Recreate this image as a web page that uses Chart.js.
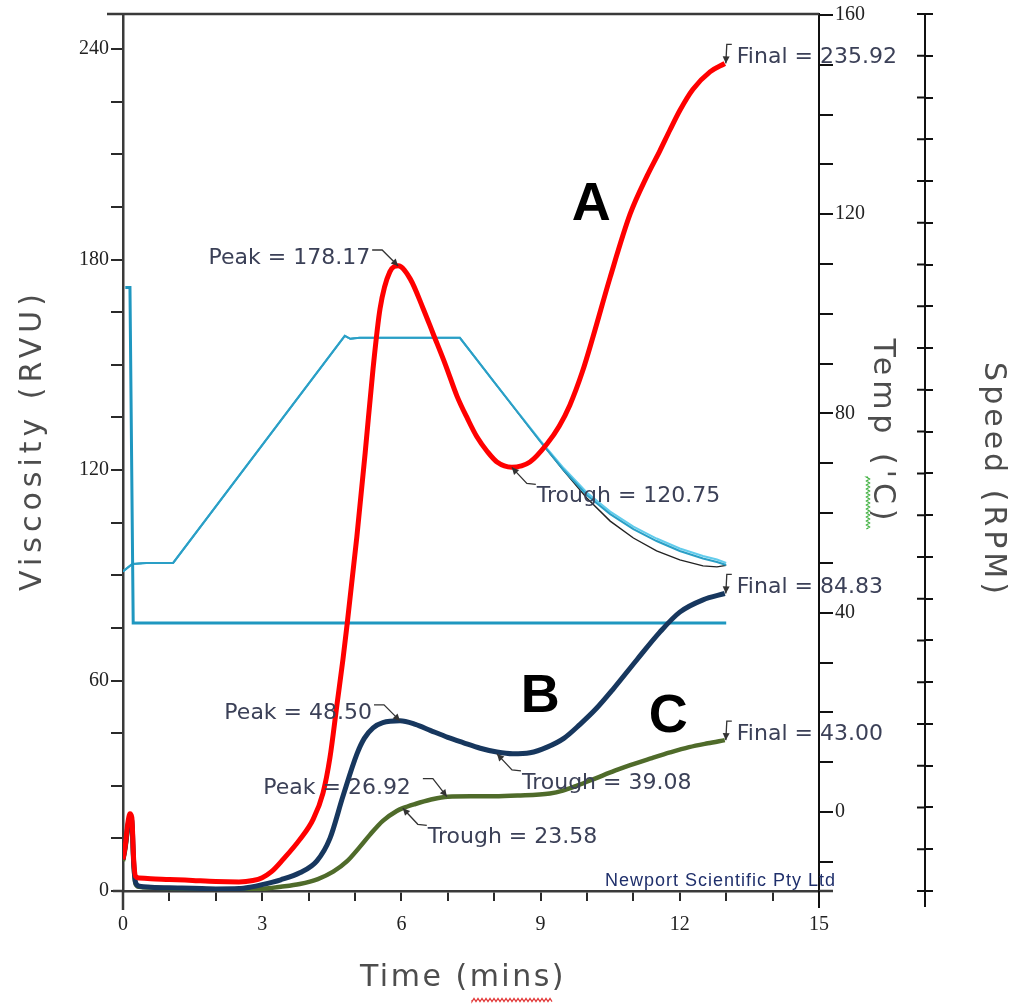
<!DOCTYPE html>
<html>
<head>
<meta charset="utf-8">
<script src="https://cdn.jsdelivr.net/npm/chart.js@4/dist/chart.umd.min.js"></script>
<style>
html,body{margin:0;padding:0;background:#fff;}
#wrap{width:1016px;height:1004px;}
</style>
</head>
<body>
<div id="wrap"><canvas id="c" width="1016" height="1004"></canvas></div>
<script>
// ---------------- DATA ----------------
// Sample A (red)
const timeA = [0,0.05,0.1,0.15,0.19,0.23,0.27,0.35,0.6,1.0,1.5,2.0,2.5,2.8,3.0,3.2,3.45,3.8,4.1,4.31,4.46,4.61,4.74,4.83,5.04,5.22,5.39,5.54,5.75,5.93,6.19,6.47,6.68,6.95,7.2,7.43,7.63,7.85,8.06,8.38,8.77,9.14,9.4,9.63,9.9,10.13,10.5,10.93,11.3,11.57,11.79,12.0,12.28,12.65,12.97];
const viscA = [9,13,19,22,21,9,4.2,3.7,3.5,3.3,3.0,2.7,2.6,3.0,3.8,5.5,9.0,14.5,20.5,27.9,38,53,66,76,101,125,149,166,176.5,178.2,174.5,166,159,150,141,134.5,129.4,125.3,122.3,120.8,122.3,127.5,132.5,138.5,148,158,175,193,204,211,217,222.5,228.5,233.5,235.9];
// Sample B (navy)
const timeB = [0,0.05,0.1,0.15,0.19,0.23,0.27,0.35,0.6,1.0,1.5,2.0,2.5,2.74,3.0,3.4,3.81,4.18,4.46,4.74,5.04,5.2,5.39,5.6,5.97,6.3,6.62,7.0,7.33,7.7,8.06,8.4,8.77,9.14,9.5,9.85,10.2,10.56,11.08,11.57,12.0,12.5,12.97];
const viscB = [9,13,18,21,20,8,2.5,1.4,1.1,0.9,0.8,0.6,0.7,1.1,1.8,3.2,5.2,8.6,15,27,39,43.5,46.5,48,48.5,47.5,45.8,43.8,42.3,40.7,39.6,39.1,39.4,41.0,43.5,47.5,52,57.5,66,73.8,79.5,83,84.8];
// Sample C (olive)
const timeC = [0,0.05,0.1,0.15,0.19,0.23,0.27,0.35,0.6,1.0,1.5,2.0,2.5,3.0,3.4,3.81,4.2,4.53,4.83,5.1,5.32,5.6,5.9,6.03,6.3,6.62,7.0,7.5,8.0,8.5,9.2,9.48,9.8,10.2,10.6,10.93,11.4,11.79,12.2,12.6,12.97];
const viscC = [8.5,12,17,20,19,7,2,1.2,1,0.8,0.7,0.5,0.4,0.6,1.2,2.0,3.4,5.5,8.5,12.5,16,20,22.8,23.6,24.8,26,26.9,27,27,27.2,27.8,28.6,30.1,32.2,34.3,35.9,37.9,39.5,41,42.1,43];
// Paddle speed (RPM)
const speedTime = [0.05,0.15,0.22,13];
const speedRPM  = [960,960,160,160];
// Temperature profiles (°C)
const tempTime  = [0,0.2,0.5,1.08,4.78,4.9,5.1,7.26,7.5,8.0,8.5,9.0,9.5,10.0,10.5,11.0,11.5,12.0,12.5,12.8,13.0];
const tempMain  = [48.3,49.8,50.0,50.0,95.6,95.0,95.2,95.2,92.3,86.3,80.3,74.3,68.6,63.6,59.8,56.8,54.4,52.4,50.9,50.2,49.6];
const tempLight = [48.3,49.8,50.0,50.0,95.6,95.0,95.2,95.2,92.3,86.3,80.4,74.5,69.0,64.1,60.3,57.3,54.9,52.9,51.4,50.7,50.0];
const tempBlack = [48.3,49.8,50.0,50.0,95.6,95.0,95.2,95.2,92.3,86.3,80.3,74.3,68.5,63.0,58.4,55.0,52.4,50.6,49.4,49.2,49.5];
// Tick labels
const timeTickLabels  = [0,3,6,9,12,15];
const viscTickLabels  = [0,60,120,180,240];
const tempTickLabels  = [0,40,80,120,160];
const speedTickLabels = [0,500,1000,1500];
// Peak / trough / final readings (time, viscosity)
const readings = [
  {text:'Peak = 178.17',   t:5.93,  v:178.17, kind:'peak'},
  {text:'Trough = 120.75', t:8.38,  v:120.75, kind:'trough'},
  {text:'Final = 235.92',  t:12.97, v:235.92, kind:'final'},
  {text:'Peak = 48.50',    t:5.97,  v:48.50,  kind:'peak'},
  {text:'Trough = 39.08',  t:8.06,  v:39.08,  kind:'trough'},
  {text:'Final = 84.83',   t:12.97, v:84.83,  kind:'final'},
  {text:'Peak = 26.92',    t:6.98,  v:26.92,  kind:'peakFar'},
  {text:'Trough = 23.58',  t:6.03,  v:23.58,  kind:'trough'},
  {text:'Final = 43.00',   t:12.97, v:43.00,  kind:'final'}
];

// ---------------- STYLE / LAYOUT ----------------
const pts = (xs, ys) => xs.map((x, i) => ({x, y: ys[i]}));
const readingStyle = {
  peak:    {align:'right', dx:-28, dy:-8, leader:[[-26,-16],[-16,-16],[0,0]]},
  peakFar: {align:'right', dx:-36, dy:-8, leader:[[-24,-18],[-14,-18],[0,0]]},
  trough:  {align:'left',  dx:25,  dy:29, leader:[[24,17],[15,16],[0,0]]},
  final:   {align:'left',  dx:12,  dy:-6, leader:[[7,-19],[2,-19],[1,0]]}
};
const letterStyle = [
  {text:'A', t:10.09, v:195.6},
  {text:'B', t:8.99,  v:55.3},
  {text:'C', t:11.75, v:49.6}
];
const tickFont = {family:'"Liberation Serif", serif', size:20};

function labelCb(list){ return v => list.includes(v) ? String(v) : ''; }

function drawLeader(ctx, p){
  ctx.beginPath();
  ctx.moveTo(p[0][0], p[0][1]);
  for (let i = 1; i < p.length; i++) ctx.lineTo(p[i][0], p[i][1]);
  ctx.stroke();
  const a = p[p.length-2], b = p[p.length-1];
  const ang = Math.atan2(b[1]-a[1], b[0]-a[0]);
  const L = 7, W = 3.5;
  ctx.beginPath();
  ctx.moveTo(b[0], b[1]);
  ctx.lineTo(b[0] - L*Math.cos(ang) + W*Math.sin(ang), b[1] - L*Math.sin(ang) - W*Math.cos(ang));
  ctx.lineTo(b[0] - L*Math.cos(ang) - W*Math.sin(ang), b[1] - L*Math.sin(ang) + W*Math.cos(ang));
  ctx.closePath();
  ctx.fill();
}

function squiggle(ctx, x0, y0, x1, y1, amp, period){
  const len = Math.hypot(x1-x0, y1-y0);
  const ux = (x1-x0)/len, uy = (y1-y0)/len;
  const nx = -uy, ny = ux;
  ctx.beginPath();
  let s = 0, k = 0;
  ctx.moveTo(x0, y0);
  while (s <= len) {
    const o = (k % 2 === 0 ? amp : -amp);
    ctx.lineTo(x0 + ux*s + nx*o, y0 + uy*s + ny*o);
    s += period/2; k++;
  }
  ctx.stroke();
}

function drawTitle(ctx, text, x, y, rot, size, spacing){
  ctx.save();
  ctx.translate(x, y);
  ctx.rotate(rot);
  ctx.font = size + 'px "DejaVu Sans", sans-serif';
  try { ctx.letterSpacing = spacing + 'px'; } catch(e) {}
  ctx.fillStyle = '#4d4d4d';
  ctx.textAlign = 'center';
  ctx.textBaseline = 'middle';
  ctx.fillText(text, 0, 0);
  ctx.restore();
}

const overlay = {
  id: 'overlay',
  afterDraw(chart){
    const {ctx, chartArea: ca, scales} = chart;
    const xs = scales.x, ys = scales.y, sp = scales.ySpeed;
    ctx.save();
    // frame extensions
    ctx.strokeStyle = '#3a3a3a';
    ctx.lineWidth = 2.5;
    ctx.beginPath();
    ctx.moveTo(107, ca.top); ctx.lineTo(ca.right, ca.top);
    ctx.moveTo(ca.left, ca.bottom); ctx.lineTo(ca.left, ca.bottom + 19);
    ctx.moveTo(113, ca.bottom); ctx.lineTo(ca.left, ca.bottom);
    ctx.moveTo(ca.right, ca.bottom); ctx.lineTo(833, ca.bottom);
    ctx.stroke();
    ctx.strokeStyle = '#111';
    ctx.lineWidth = 2;
    ctx.beginPath();
    ctx.moveTo(ca.right, ca.bottom); ctx.lineTo(ca.right, ca.bottom + 17);
    ctx.moveTo(sp.left, ca.bottom); ctx.lineTo(sp.left, ca.bottom + 16);
    ctx.stroke();
    // inner half of speed ticks
    ctx.beginPath();
    sp.ticks.forEach(t => {
      const y = sp.getPixelForValue(t.value);
      ctx.moveTo(sp.left - 8, y); ctx.lineTo(sp.left, y);
    });
    ctx.stroke();

    // readings
    ctx.font = '22px "DejaVu Sans", sans-serif';
    ctx.textBaseline = 'middle';
    readings.forEach(r => {
      const st = readingStyle[r.kind];
      const ax = xs.getPixelForValue(r.t), ay = ys.getPixelForValue(r.v);
      ctx.strokeStyle = '#333'; ctx.fillStyle = '#333'; ctx.lineWidth = 1.3;
      drawLeader(ctx, st.leader.map(p => [ax + p[0], ay + p[1]]));
      ctx.fillStyle = '#3b4057';
      ctx.textAlign = st.align;
      ctx.fillText(r.text, ax + st.dx, ay + st.dy);
    });

    // curve letters
    ctx.font = 'bold 54px "Liberation Sans", Arial, sans-serif';
    ctx.fillStyle = '#000';
    ctx.textAlign = 'center';
    ctx.textBaseline = 'middle';
    letterStyle.forEach(l => {
      ctx.fillText(l.text, xs.getPixelForValue(l.t), ys.getPixelForValue(l.v));
    });

    // credit
    ctx.font = '18px "Liberation Sans", Arial, sans-serif';
    try { ctx.letterSpacing = '1px'; } catch(e) {}
    ctx.fillStyle = '#1f2f6b';
    ctx.textAlign = 'right';
    ctx.textBaseline = 'alphabetic';
    ctx.fillText('Newport Scientific Pty Ltd', 836, 886);
    try { ctx.letterSpacing = '0px'; } catch(e) {}

    // axis titles
    drawTitle(ctx, 'Viscosity (RVU)', 33, 440, -Math.PI/2, 30, 5);
    drawTitle(ctx, "Temp ('C)", 882, 432, Math.PI/2, 30, 5);
    drawTitle(ctx, 'Speed (RPM)', 993, 480, Math.PI/2, 30, 4);
    drawTitle(ctx, 'Time (mins)', 463, 978, 0, 30, 2.5);

    // spell-check squiggles
    ctx.lineWidth = 1.2;
    ctx.strokeStyle = '#e23a3a';
    squiggle(ctx, 472, 1000, 553, 1000, 1.6, 4);
    ctx.strokeStyle = '#3aae3a';
    squiggle(ctx, 868, 477, 868, 530, 1.6, 4);
    ctx.restore();
  }
};

const thinLine = {pointRadius:0, pointHoverRadius:0, tension:0, fill:false};

new Chart(document.getElementById('c'), {
  type: 'line',
  data: {
    datasets: [
      {label:'A', data:pts(timeA, viscA), yAxisID:'y', borderColor:'#ff0000', borderWidth:5, pointRadius:0, cubicInterpolationMode:'monotone', fill:false},
      {label:'B', data:pts(timeB, viscB), yAxisID:'y', borderColor:'#17375e', borderWidth:5, pointRadius:0, cubicInterpolationMode:'monotone', fill:false},
      {label:'C', data:pts(timeC, viscC), yAxisID:'y', borderColor:'#4f6b2a', borderWidth:4.5, pointRadius:0, cubicInterpolationMode:'monotone', fill:false},
      Object.assign({label:'Speed', data:pts(speedTime, speedRPM), yAxisID:'ySpeed', borderColor:'#1f97c0', borderWidth:3}, thinLine),
      Object.assign({label:'Temp 1', data:pts(tempTime, tempMain), yAxisID:'yTemp', borderColor:'#2a9fc6', borderWidth:2}, thinLine),
      Object.assign({label:'Temp 2', data:pts(tempTime, tempLight), yAxisID:'yTemp', borderColor:'#62ccec', borderWidth:2}, thinLine),
      Object.assign({label:'Temp 3', data:pts(tempTime, tempBlack), yAxisID:'yTemp', borderColor:'#222222', borderWidth:1.4}, thinLine)
    ]
  },
  options: {
    responsive: false,
    animation: false,
    devicePixelRatio: 1,
    layout: {padding: {top:14, left:0, right:0, bottom:0}},
    plugins: {legend:{display:false}, tooltip:{enabled:false}},
    events: [],
    scales: {
      x: {
        type:'linear', position:'bottom', min:0, max:15,
        afterFit: s => { s.height = 113; },
        ticks: {stepSize:1, autoSkip:false, maxRotation:0, includeBounds:false, maxTicksLimit:1000,
                callback: labelCb(timeTickLabels), font: tickFont, color:'#222', padding:12},
        grid: {drawOnChartArea:false, drawTicks:true, tickLength:10, color:'#2a2a2a', lineWidth:2},
        border: {display:true, color:'#3a3a3a', width:2.5}
      },
      y: {
        type:'linear', position:'left', min:0, max:250,
        afterFit: s => { s.width = 123; },
        ticks: {stepSize:15, autoSkip:false, includeBounds:false, maxTicksLimit:1000,
                callback: labelCb(viscTickLabels), font: tickFont, color:'#222', padding:2},
        grid: {drawOnChartArea:false, drawTicks:true, tickLength:12, color:'#2a2a2a', lineWidth:2},
        border: {display:true, color:'#3a3a3a', width:2.5}
      },
      yTemp: {
        type:'linear', position:'right', weight:1, min:-15.86, max:160.2,
        afterFit: s => { s.width = 106; },
        ticks: {stepSize:10, autoSkip:false, includeBounds:false, maxTicksLimit:1000,
                callback: labelCb(tempTickLabels), font: tickFont, color:'#222', padding:2},
        grid: {drawOnChartArea:false, drawTicks:true, tickLength:14, color:'#111', lineWidth:2},
        border: {display:true, color:'#111', width:2}
      },
      ySpeed: {
        type:'linear', position:'right', weight:2, min:-479.4, max:1612.2,
        afterFit: s => { s.width = 91; },
        ticks: {stepSize:100, autoSkip:false, includeBounds:false, maxTicksLimit:1000,
                callback: labelCb(speedTickLabels), font: tickFont, color:'#222', padding:2},
        grid: {drawOnChartArea:false, drawTicks:true, tickLength:8, color:'#111', lineWidth:2},
        border: {display:true, color:'#111', width:2}
      }
    }
  },
  plugins: [overlay]
});
</script>
</body>
</html>
